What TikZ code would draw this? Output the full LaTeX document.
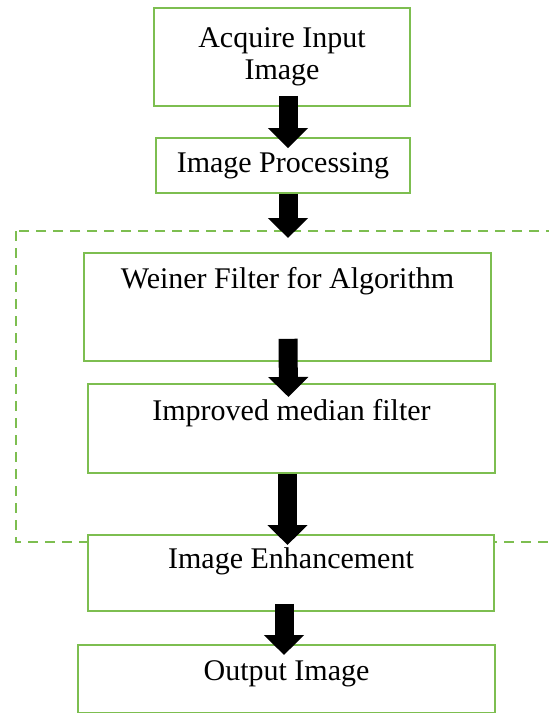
\documentclass[tikz,border=0pt]{standalone}
\usepackage{fontspec}
\setmainfont{Liberation Serif}
\usetikzlibrary{arrows.meta}
\definecolor{boxgreen}{RGB}{125,190,80}

\begin{document}
\begin{tikzpicture}[x=1pt, y=-1pt,
  stagebox/.style={draw=boxgreen, line width=1.8pt, fill=white, inner sep=0pt,
      align=center, font=\fontsize{30}{32}\selectfont},
  flowarrow/.style={line width=19pt, -{Triangle[width=39pt,length=20pt]}}]
\useasboundingbox (0,0) rectangle (549,713);
\draw[boxgreen, line width=1.8pt, dash pattern=on 10pt off 7pt] (16,231) rectangle (570,542);
\node[stagebox, minimum width=256pt, minimum height=98pt] (acq) at (282,57)
      {Acquire Input\\Image};
\node[stagebox, minimum width=254pt, minimum height=55pt] (proc) at (283,165.5)
      {Image Processing};
\node[stagebox, minimum width=407pt, text height=36pt, text depth=72pt, anchor=north] (weiner) at (287.5,252)
      {Weiner Filter for Algorithm};
\node[stagebox, minimum width=407pt, text height=37pt, text depth=52pt, anchor=north] (improved) at (291.5,383)
      {Improved median filter};
\node[stagebox, minimum width=406pt, text height=34pt, text depth=42pt, anchor=north] (enh) at (291,534)
      {Image Enhancement};
\node[stagebox, minimum width=417pt, text height=36pt, text depth=32pt, anchor=north] (out) at (286.5,644)
      {Output Image};
\draw[flowarrow] ([xshift=6pt,yshift=11pt]acq.south) -- ([xshift=5pt,yshift=-11pt]proc.north);
\draw[flowarrow] ([xshift=5pt]proc.south) -- ([xshift=0.5pt,yshift=14pt]weiner.north);
\draw[flowarrow] ([xshift=0.5pt,yshift=23pt]weiner.south) -- ([xshift=-3pt,yshift=-14pt]improved.north);
\draw[flowarrow] ([xshift=-4pt]improved.south) -- ([xshift=-3.5pt,yshift=-11pt]enh.north);
\draw[flowarrow] ([xshift=-7pt,yshift=8pt]enh.south) -- ([xshift=-2.5pt,yshift=-11pt]out.north);
\end{tikzpicture}
\end{document}
